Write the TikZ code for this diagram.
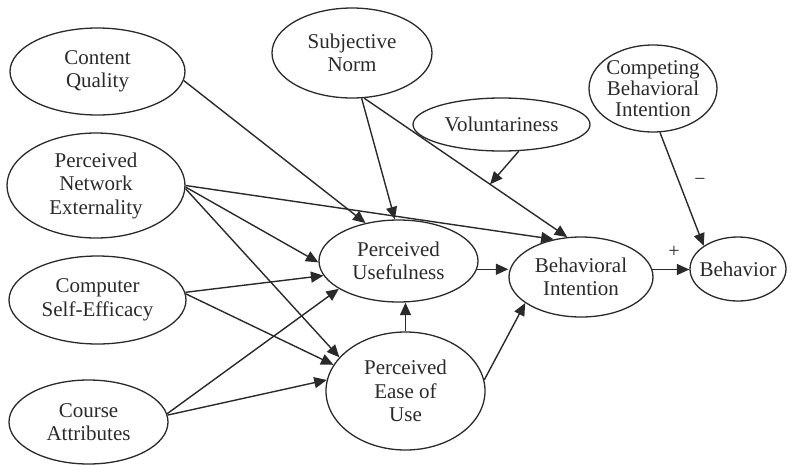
\documentclass[tikz,border=0pt]{standalone}
\usepackage{fontspec}
\setmainfont{Liberation Serif}
\usetikzlibrary{shapes.geometric,arrows.meta}
\definecolor{ink}{HTML}{2A2A2A}
\tikzset{
  ell/.style={draw=ink, line width=1.3pt, ellipse, inner sep=0pt},
  txt/.style={inner sep=0pt, align=center, text=ink, font=\fontsize{21}{23.5}\selectfont},
  arr/.style={draw=ink, line width=1.4pt, -{Triangle[length=12.5pt,width=11pt]}},
  sign/.style={inner sep=0pt, text=ink, font=\fontsize{20}{22}\selectfont}
}
\begin{document}
\begin{tikzpicture}[x=1pt,y=-1pt]
\useasboundingbox (0,0) rectangle (792,464);
% ellipses
\node[ell, minimum width=175pt, minimum height=87pt] (cq) at (97.5,71.5) {};
\node[ell, minimum width=160pt, minimum height=90pt] (sn) at (352,53) {};
\node[ell, minimum width=177pt, minimum height=53pt] (vol) at (501.5,124.5) {};
\node[ell, minimum width=128pt, minimum height=87pt] (cbi) at (653,88.5) {};
\node[ell, minimum width=178pt, minimum height=105pt] (pne) at (96,185.5) {};
\node[ell, minimum width=177pt, minimum height=88pt] (cse) at (97.5,300) {};
\node[ell, minimum width=159pt, minimum height=84pt] (ca) at (88.5,422) {};
\node[ell, minimum width=159pt, minimum height=82pt] (pu) at (398.5,261) {};
\node[ell, minimum width=159pt, minimum height=118pt] (peou) at (405.5,391) {};
\node[ell, minimum width=144pt, minimum height=80pt] (bi) at (581,277) {};
\node[ell, minimum width=96pt, minimum height=64pt] (beh) at (738,269) {};
% texts
\node[txt] (cqt) at (cq) {Content\\Quality};
\node[txt] (snt) at (sn) {Subjective\\Norm};
\node[txt] (volt) at (vol) {Voluntariness};
\node[txt, font=\fontsize{21}{21}\selectfont] (cbit) at (cbi) {Competing\\Behavioral\\Intention};
\node[txt] (pnet) at (pne) {Perceived\\Network\\Externality};
\node[txt] (cset) at (cse) {Computer\\Self-Efficacy};
\node[txt] (cat) at (ca) {Course\\Attributes};
\node[txt] (put) at (pu) {Perceived\\Usefulness};
\node[txt] (peout) at (peou) {Perceived\\Ease of\\Use};
\node[txt] (bit) at (bi) {Behavioral\\Intention};
\node[txt] (beht) at (beh) {Behavior};
% connectors
\draw[arr] (cq.-6) -- (pu.131);
\draw[arr] (sn.-78) -- (pu.95);
\draw[arr] (sn.-75) -- (bi.109);
\path (sn.-75) -- (bi.109) coordinate[pos=0.62] (vm);
\draw[arr] (vol.-57) -- (vm);
\draw[arr] (pne.-0.5) -- (bi.126);
\draw[arr] (pne.-1.2) -- (pu.181);
\draw[arr] (pne.-2) -- (peou.153.5);
\draw[arr] (cse.5) -- (pu.191);
\draw[arr] (cse.4) -- (peou.160.5);
\draw[arr] (ca.6) -- (pu.205);
\draw[arr] (ca.5) -- (peou.172);
\draw[arr] (peou.north) -- (peou.north |- pu.south);
\draw[arr] (pu.-6) -- (pu.-6 -| bi.west);
\draw[arr] (peou.8) -- (bi.205);
\draw[arr] (bi.6) -- (bi.6 -| beh.west);
\draw[arr] (cbi.-81) -- (beh.146);
% signs
\node[sign] (plus) at (674,252) {+};
\node[sign] (minus) at (700,182) {−};
\end{tikzpicture}
\end{document}
